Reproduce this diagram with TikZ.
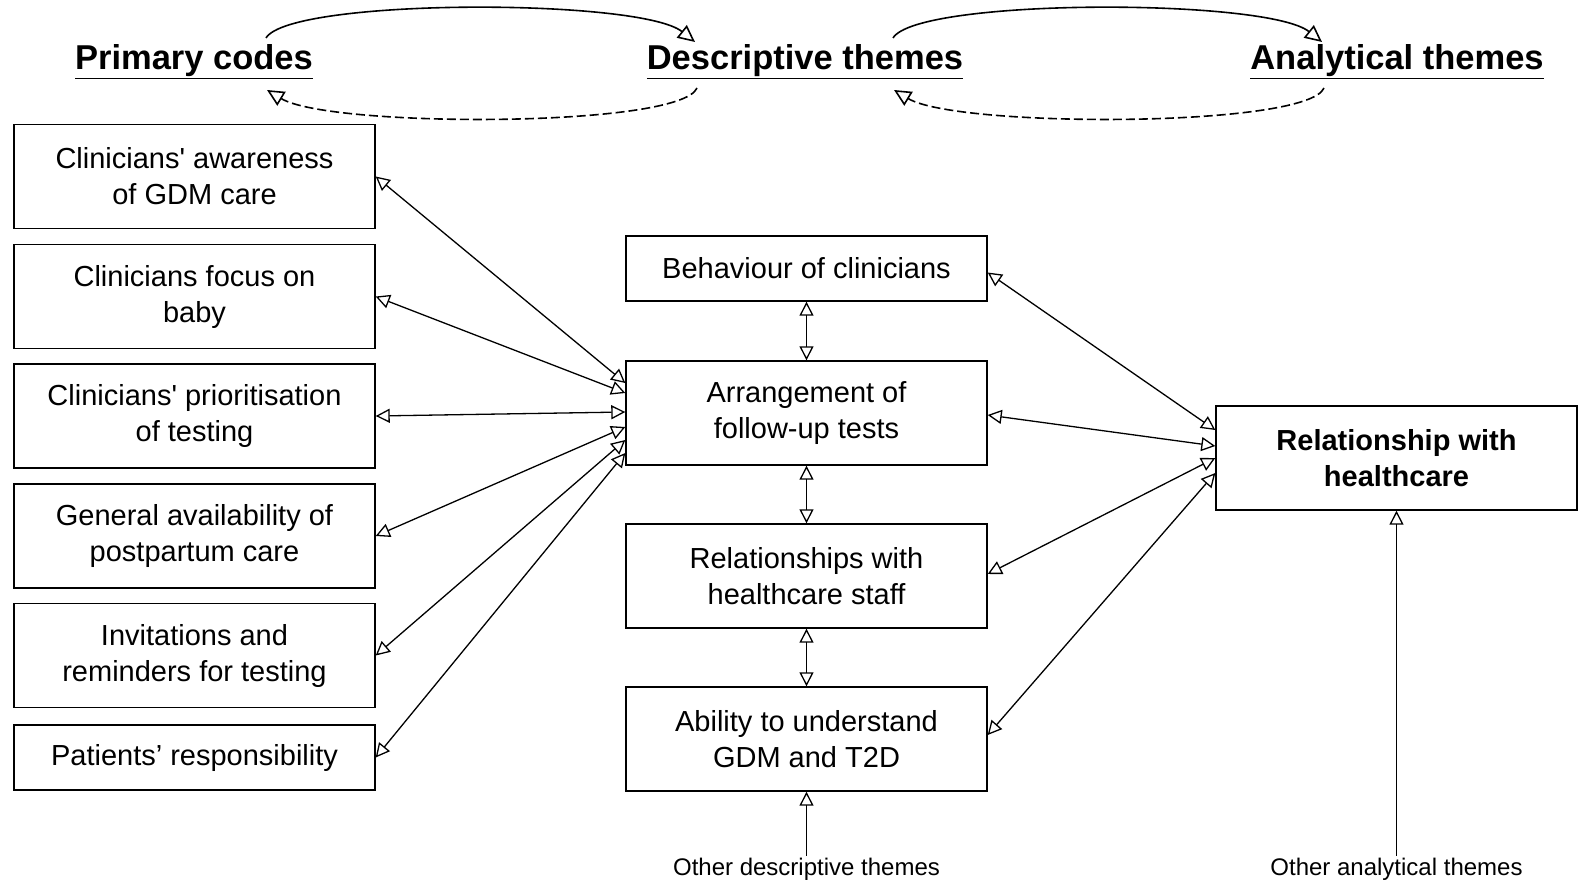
\documentclass[tikz,border=0pt]{standalone}
\usepackage{fontspec}
\setmainfont{Liberation Sans}[Ligatures=TeXOff]
\usetikzlibrary{arrows.meta,calc}
\begin{document}
\begin{tikzpicture}[x=1pt,y=-1pt,
  box/.style={draw,line width=1.4pt,minimum width=361pt,minimum height=104pt,inner sep=0pt,align=center,font=\fontsize{29}{36}\selectfont},
  sbox/.style={box,minimum height=65pt},
  hdr/.style={font=\fontsize{34.5}{38}\selectfont\bfseries,inner sep=0pt},
  small/.style={font=\fontsize{24}{28}\selectfont,inner sep=2pt},
  tip/.tip={Triangle[open,length=14pt,width=14pt]},
  bigtip/.tip={Triangle[open,length=17pt,width=16pt]},
  conn/.style={line width=1.3pt,{tip}-{tip}},
  oneway/.style={line width=1.3pt,-{tip}},
  arc/.style={line width=1.6pt,-{bigtip}}]
\useasboundingbox (0,0) rectangle (1578,880);
% headers
\node[hdr] (pc) at (194,62) {\underline{Primary codes}};
\node[hdr] (dt) at (805,62) {\underline{Descriptive themes}};
\node[hdr] (at) at (1397,62) {\underline{Analytical themes}};
% top arcs
\coordinate (a1s) at (266,38); \coordinate (a1e) at (695,42);
\coordinate (d1s) at (697,88); \coordinate (d1e) at (267,90);
\coordinate (a2s) at (893,38); \coordinate (a2e) at (1322,42);
\coordinate (d2s) at (1324,88); \coordinate (d2e) at (894,90);
\draw[arc] (a1s) .. controls (290,-2) and (640,-2) .. (a1e);
\draw[arc,dash pattern=on 9pt off 4pt] (d1s) .. controls (680,128) and (330,128) .. (d1e);
\draw[arc] (a2s) .. controls (917,-2) and (1267,-2) .. (a2e);
\draw[arc,dash pattern=on 9pt off 4pt] (d2s) .. controls (1307,128) and (957,128) .. (d2e);
% left boxes
\node[box] (b1) at (194.5,176.5) {Clinicians' awareness\\of GDM care};
\node[box] (b2) at (194.5,296.5) {Clinicians focus on\\baby};
\node[box] (b3) at (194.5,416) {Clinicians' prioritisation\\of testing};
\node[box] (b4) at (194.5,536) {General availability of\\postpartum care};
\node[box] (b5) at (194.5,655.5) {Invitations and\\reminders for testing};
\node[sbox] (b6) at (194.5,757.5) {Patients’ responsibility};
% middle boxes
\node[sbox] (beh) at (806.5,268.5) {Behaviour of clinicians};
\node[box] (arr) at (806.5,413) {Arrangement of\\follow-up tests};
\node[box] (rel) at (806.5,576) {Relationships with\\healthcare staff};
\node[box] (abi) at (806.5,739) {Ability to understand\\GDM and T2D};
% right box
\node[box,font=\fontsize{29}{36}\selectfont\bfseries] (rwh) at (1396.5,458) {Relationship with\\healthcare};
% bottom labels
\node[small] (od) at (806.5,869) {Other descriptive themes};
\node[small] (oa) at (1396.5,869) {Other analytical themes};
% left connectors
\draw[conn] (b1.east) -- ($(arr.west)+(0,-30)$);
\draw[conn] (b2.east) -- ($(arr.west)+(0,-20)$);
\draw[conn] (b3.east) -- ($(arr.west)+(0,-1)$);
\draw[conn] (b4.east) -- ($(arr.west)+(0,14)$);
\draw[conn] (b5.east) -- ($(arr.west)+(0,27)$);
\draw[conn] (b6.east) -- ($(arr.west)+(0,40)$);
% vertical
\draw[conn] (beh.south) -- (arr.north);
\draw[conn] (arr.south) -- (rel.north);
\draw[conn] (rel.south) -- (abi.north);
% right connectors
\draw[conn] ($(beh.east)+(0,4)$) -- ($(rwh.west)+(0,-28)$);
\draw[conn] ($(arr.east)+(0,2)$) -- ($(rwh.west)+(0,-12)$);
\draw[conn] ($(rel.east)+(0,-2)$) -- ($(rwh.west)+(0,0)$);
\draw[conn] ($(abi.east)+(0,-4)$) -- ($(rwh.west)+(0,15)$);
% bottom
\draw[oneway] (od.north) -- (abi.south);
\draw[oneway] (oa.north) -- (rwh.south);
\end{tikzpicture}
\end{document}
